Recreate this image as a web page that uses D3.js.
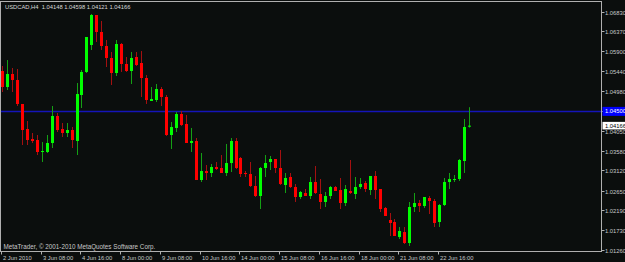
<!DOCTYPE html>
<html>
<head>
<meta charset="utf-8">
<script src="https://cdn.jsdelivr.net/npm/d3@7"></script>
<style>
  html, body { margin: 0; padding: 0; background: #0b0e0d; }
  svg { display: block; }
  text { font-family: "Liberation Sans", Arial, sans-serif; font-size: 5.8px; }
</style>
</head>
<body>
<svg id="chart" width="625" height="262"></svg>
<script>
(function() {

  // H4 candles, USDCAD, 2 Jun 2010 .. 23 Jun 2010
  const opens = [
    1.05444, 1.05070, 1.05374, 1.05234, 1.04673, 1.04088, 1.03854, 1.03831, 1.03551, 1.03551,
    1.03761, 1.04392, 1.04088, 1.03995, 1.04065, 1.03808, 1.04883, 1.05421, 1.06052, 1.06753,
    1.06356, 1.06028, 1.05748, 1.05397, 1.06075, 1.05608, 1.05444, 1.05771, 1.05631, 1.05280,
    1.04743, 1.04766, 1.05023, 1.04836, 1.03948, 1.04112, 1.04439, 1.04205, 1.03761, 1.03808,
    1.02896, 1.03106, 1.03060, 1.03200, 1.03177, 1.03060, 1.03293, 1.03808, 1.03410, 1.03060,
    1.03036, 1.02756, 1.02522, 1.03177, 1.03317, 1.03387, 1.03177, 1.02779, 1.02966, 1.02732,
    1.02499, 1.02592, 1.02522, 1.02849, 1.02569, 1.02382, 1.02522, 1.02732, 1.02662, 1.02358,
    1.02639, 1.02569, 1.02732, 1.02826, 1.02662, 1.02990, 1.02686, 1.02242, 1.01961, 1.01914,
    1.01564, 1.01680, 1.01423, 1.02265, 1.02358, 1.02288, 1.02475, 1.02405, 1.01914, 1.02312,
    1.02849, 1.02896, 1.02919, 1.03340, 1.04148
  ];
  const highs = [
    1.05561, 1.05701, 1.05514, 1.05491, 1.04673, 1.04275, 1.03995, 1.03948, 1.03784, 1.03948,
    1.04626, 1.04462, 1.04228, 1.04228, 1.04135, 1.05163, 1.05467, 1.06239, 1.06776, 1.06753,
    1.06613, 1.06169, 1.05888, 1.06169, 1.06098, 1.05771, 1.05888, 1.05888, 1.05911, 1.05350,
    1.05070, 1.05140, 1.05070, 1.04883, 1.04252, 1.04486, 1.04509, 1.04415, 1.04112, 1.03878,
    1.03527, 1.03247, 1.03270, 1.03317, 1.03480, 1.03738, 1.03878, 1.03878, 1.03434, 1.03106,
    1.03317, 1.02990, 1.03200, 1.03480, 1.03457, 1.03387, 1.03597, 1.03060, 1.03060, 1.02803,
    1.02639, 1.02686, 1.02966, 1.03223, 1.02919, 1.02616, 1.02756, 1.02756, 1.02943, 1.02779,
    1.03364, 1.02966, 1.02943, 1.02873, 1.02990, 1.03106, 1.02686, 1.02265, 1.02125, 1.01984,
    1.01797, 1.01797, 1.02382, 1.02592, 1.02429, 1.02499, 1.02522, 1.02452, 1.02335, 1.02943,
    1.03060, 1.03013, 1.03387, 1.04322, 1.04598
  ];
  const lows = [
    1.04953, 1.05000, 1.04953, 1.04626, 1.03714, 1.03714, 1.03761, 1.03480, 1.03317, 1.03527,
    1.03644, 1.04018, 1.03901, 1.03901, 1.03644, 1.03480, 1.04579, 1.05397, 1.05935, 1.06122,
    1.05935, 1.05537, 1.05117, 1.05327, 1.05421, 1.05421, 1.05140, 1.05561, 1.04836, 1.04673,
    1.04743, 1.04719, 1.04626, 1.03925, 1.03621, 1.04018, 1.04158, 1.03761, 1.03551, 1.02896,
    1.02849, 1.02896, 1.02966, 1.03130, 1.03060, 1.02990, 1.03083, 1.03153, 1.02966, 1.02966,
    1.02732, 1.02499, 1.02218, 1.02966, 1.03130, 1.03060, 1.02779, 1.02592, 1.02709, 1.02382,
    1.02452, 1.02522, 1.02452, 1.02569, 1.02218, 1.02265, 1.02452, 1.02639, 1.02218, 1.02288,
    1.02569, 1.02452, 1.02686, 1.02616, 1.02545, 1.02452, 1.02148, 1.02055, 1.01587, 1.01587,
    1.01517, 1.01400, 1.01353, 1.02148, 1.02148, 1.02242, 1.02101, 1.01797, 1.01797, 1.02288,
    1.02686, 1.02849, 1.02873, 1.03060, 1.04121
  ];
  const closes = [
    1.05070, 1.05374, 1.05234, 1.04673, 1.04065, 1.03831, 1.03808, 1.03551, 1.03574, 1.03761,
    1.04392, 1.04065, 1.03995, 1.04065, 1.03831, 1.04906, 1.05421, 1.06239, 1.06753, 1.06356,
    1.06028, 1.05748, 1.05397, 1.06075, 1.05608, 1.05444, 1.05748, 1.05584, 1.05280, 1.04766,
    1.04789, 1.05023, 1.04836, 1.03948, 1.04135, 1.04439, 1.04182, 1.03761, 1.03808, 1.02896,
    1.03106, 1.03060, 1.03200, 1.03153, 1.03060, 1.03293, 1.03808, 1.03177, 1.03036, 1.03036,
    1.02756, 1.02522, 1.03177, 1.03293, 1.03387, 1.03177, 1.02803, 1.02943, 1.02732, 1.02499,
    1.02616, 1.02522, 1.02849, 1.02592, 1.02382, 1.02522, 1.02732, 1.02639, 1.02358, 1.02686,
    1.02592, 1.02732, 1.02803, 1.02686, 1.02990, 1.02662, 1.02218, 1.02055, 1.01891, 1.01587,
    1.01704, 1.01423, 1.02265, 1.02358, 1.02288, 1.02499, 1.02405, 1.01891, 1.02312, 1.02849,
    1.02919, 1.02919, 1.03364, 1.04135, 1.04166
  ];

  // time axis: one label every 8 bars
  const timeLabels = ["2 Jun 2010", "3 Jun 08:00", "4 Jun 16:00", "8 Jun 00:00", "9 Jun 08:00",
    "10 Jun 16:00", "14 Jun 00:00", "15 Jun 08:00", "16 Jun 16:00", "18 Jun 00:00",
    "21 Jun 08:00", "22 Jun 16:00"];
  const timeStep = 8;

  const priceTicks = [1.06830, 1.06370, 1.05900, 1.05440, 1.04980, 1.04510, 1.04050,
    1.03580, 1.03120, 1.02650, 1.02190, 1.01730, 1.01260];

  const hLinePrice = 1.04500;
  const symbol = "USDCAD,H4";
  const copyright = "MetaTrader, \u00a9 2001-2010 MetaQuotes Software Corp.";

  const bars = opens.map((o, i) => ({ i: i, o: o, h: highs[i], l: lows[i], c: closes[i] }));
  const last = bars[bars.length - 1];

  const svg = d3.select("#chart");
  const W = 625, H = 262;
  const plot = { left: 0.5, top: 1.5, right: 601.5, bottom: 251.5 };

  const x = d3.scaleLinear().domain([0, bars.length - 1]).range([2, 469]);
  const y = d3.scaleLinear().domain([1.01260, 1.06830]).range([250, 11.7]);

  svg.append("rect").attr("width", W).attr("height", H).attr("fill", "#0b0e0d");

  svg.append("defs").append("clipPath").attr("id", "plotclip")
    .append("rect")
    .attr("x", plot.left + 0.5).attr("y", plot.top + 0.5)
    .attr("width", plot.right - plot.left - 1).attr("height", plot.bottom - plot.top - 1);

  const g = svg.append("g").attr("clip-path", "url(#plotclip)");

  // horizontal line
  const hy = y(hLinePrice);
  g.append("line")
    .attr("x1", plot.left).attr("x2", plot.right)
    .attr("y1", Math.round(hy) + 0.5).attr("y2", Math.round(hy) + 0.5)
    .attr("stroke", "#1414b8").attr("stroke-width", 1.4);

  const up = d => d.c >= d.o;
  const cx = d => Math.round(x(d.i)) + 0.5;

  // wicks
  g.selectAll("line.wick").data(bars).enter().append("line")
    .attr("class", "wick")
    .attr("x1", cx).attr("x2", cx)
    .attr("y1", d => y(d.h)).attr("y2", d => y(d.l))
    .attr("stroke", d => up(d) ? "#14a014" : "#a41010")
    .attr("stroke-width", 1);

  // bodies
  g.selectAll("rect.body").data(bars).enter().append("rect")
    .attr("class", "body")
    .attr("x", d => cx(d) - 1.5)
    .attr("width", 3)
    .attr("y", d => y(Math.max(d.o, d.c)))
    .attr("height", d => Math.max(1, Math.abs(y(d.o) - y(d.c))))
    .attr("fill", d => up(d) ? "#00ff00" : "#ff0000");

  // frame
  svg.append("rect")
    .attr("x", plot.left).attr("y", plot.top)
    .attr("width", plot.right - plot.left).attr("height", plot.bottom - plot.top)
    .attr("fill", "none").attr("stroke", "#b0b0b0").attr("stroke-width", 1);

  // price axis
  const pa = svg.append("g");
  priceTicks.forEach(p => {
    const py = Math.round(y(p)) + 0.5;
    pa.append("line").attr("x1", plot.right).attr("x2", plot.right + 3)
      .attr("y1", py).attr("y2", py).attr("stroke", "#b0b0b0");
    pa.append("text").attr("x", 605).attr("y", py).attr("dy", "0.35em")
      .attr("fill", "#c8c8c8").text(p.toFixed(5));
  });

  // horizontal line label
  pa.append("rect").attr("x", 602.5).attr("y", hy - 4.5).attr("width", 23).attr("height", 9)
    .attr("fill", "#0000ff");
  pa.append("text").attr("x", 605).attr("y", hy).attr("dy", "0.35em")
    .attr("fill", "#ffffff").text(hLinePrice.toFixed(5));

  // current price label
  const ly = y(last.c);
  pa.append("rect").attr("x", 602.5).attr("y", ly - 3.8).attr("width", 23).attr("height", 7.6)
    .attr("fill", "#ffffff");
  pa.append("text").attr("x", 605).attr("y", ly).attr("dy", "0.35em")
    .attr("fill", "#000000").text(last.c.toFixed(5));

  // time axis
  const ta = svg.append("g");
  timeLabels.forEach((t, k) => {
    const tx = Math.round(x(k * timeStep) - 1) + 0.5;
    ta.append("line").attr("x1", tx).attr("x2", tx)
      .attr("y1", plot.bottom).attr("y2", plot.bottom + 3).attr("stroke", "#b0b0b0");
    ta.append("text").attr("x", tx + 1.5).attr("y", 259.5)
      .attr("fill", "#c8c8c8").text(t);
  });

  // header and copyright
  svg.append("text").attr("x", 5).attr("y", 8.5).attr("fill", "#d8d8d8")
    .attr("xml:space", "preserve")
    .text(symbol + "  " + [last.o, last.h, last.l, last.c].map(v => v.toFixed(5)).join(" "));
  svg.append("text").attr("x", 3.5).attr("y", 248.5).attr("fill", "#c8c8c8")
    .style("font-size", "6.3px")
    .text(copyright);

})();
</script>
</body>
</html>
